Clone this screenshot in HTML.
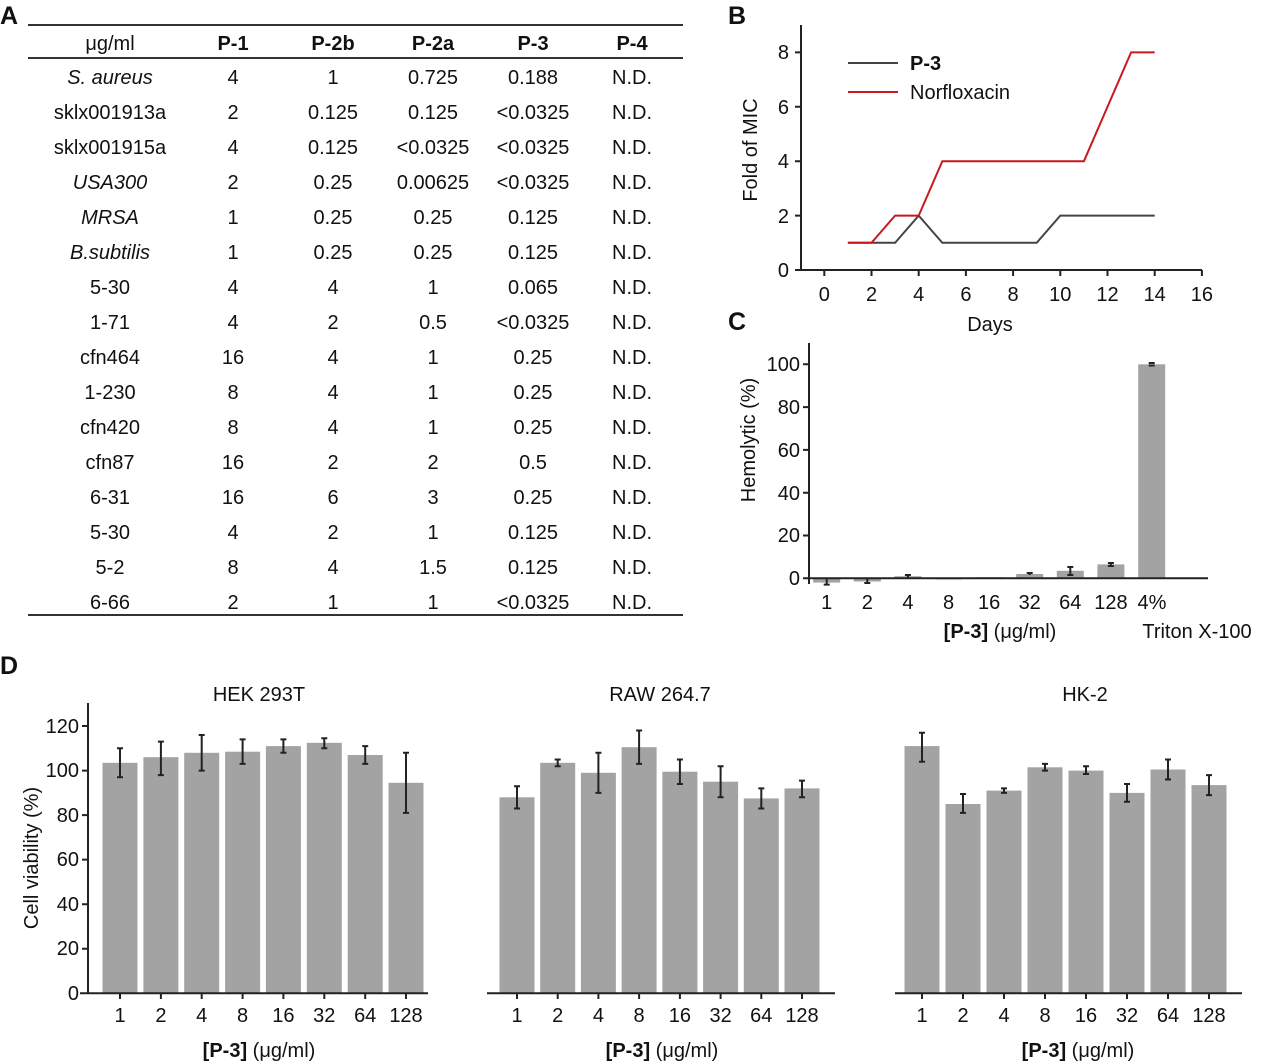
<!DOCTYPE html><html><head><style>body{margin:0;background:#fff}svg{display:block}text{font-family:"Liberation Sans",sans-serif;fill:#111}</style></head><body>
<svg width="1275" height="1063" viewBox="0 0 1275 1063">
<g font-weight="bold" font-size="25"><text x="0" y="24">A</text><text x="728" y="24">B</text><text x="728" y="330">C</text><text x="0" y="674">D</text></g>
<g stroke="#333" stroke-width="2"><line x1="28" y1="25" x2="683" y2="25"/><line x1="28" y1="58" x2="683" y2="58"/><line x1="28" y1="615" x2="683" y2="615"/></g>
<g font-size="20" text-anchor="middle">
<text x="110" y="50">μg/ml</text><g font-weight="bold"><text x="233" y="50">P-1</text><text x="333" y="50">P-2b</text><text x="433" y="50">P-2a</text><text x="533" y="50">P-3</text><text x="632" y="50">P-4</text></g>
<g transform="translate(0,84)">
<text x="110" y="0" font-style="italic">S. aureus</text><text x="233" y="0">4</text><text x="333" y="0">1</text><text x="433" y="0">0.725</text><text x="533" y="0">0.188</text><text x="632" y="0">N.D.</text>
<text x="110" y="35">sklx001913a</text><text x="233" y="35">2</text><text x="333" y="35">0.125</text><text x="433" y="35">0.125</text><text x="533" y="35">&lt;0.0325</text><text x="632" y="35">N.D.</text>
<text x="110" y="70">sklx001915a</text><text x="233" y="70">4</text><text x="333" y="70">0.125</text><text x="433" y="70">&lt;0.0325</text><text x="533" y="70">&lt;0.0325</text><text x="632" y="70">N.D.</text>
<text x="110" y="105" font-style="italic">USA300</text><text x="233" y="105">2</text><text x="333" y="105">0.25</text><text x="433" y="105">0.00625</text><text x="533" y="105">&lt;0.0325</text><text x="632" y="105">N.D.</text>
<text x="110" y="140" font-style="italic">MRSA</text><text x="233" y="140">1</text><text x="333" y="140">0.25</text><text x="433" y="140">0.25</text><text x="533" y="140">0.125</text><text x="632" y="140">N.D.</text>
<text x="110" y="175" font-style="italic">B.subtilis</text><text x="233" y="175">1</text><text x="333" y="175">0.25</text><text x="433" y="175">0.25</text><text x="533" y="175">0.125</text><text x="632" y="175">N.D.</text>
<text x="110" y="210">5-30</text><text x="233" y="210">4</text><text x="333" y="210">4</text><text x="433" y="210">1</text><text x="533" y="210">0.065</text><text x="632" y="210">N.D.</text>
<text x="110" y="245">1-71</text><text x="233" y="245">4</text><text x="333" y="245">2</text><text x="433" y="245">0.5</text><text x="533" y="245">&lt;0.0325</text><text x="632" y="245">N.D.</text>
<text x="110" y="280">cfn464</text><text x="233" y="280">16</text><text x="333" y="280">4</text><text x="433" y="280">1</text><text x="533" y="280">0.25</text><text x="632" y="280">N.D.</text>
<text x="110" y="315">1-230</text><text x="233" y="315">8</text><text x="333" y="315">4</text><text x="433" y="315">1</text><text x="533" y="315">0.25</text><text x="632" y="315">N.D.</text>
<text x="110" y="350">cfn420</text><text x="233" y="350">8</text><text x="333" y="350">4</text><text x="433" y="350">1</text><text x="533" y="350">0.25</text><text x="632" y="350">N.D.</text>
<text x="110" y="385">cfn87</text><text x="233" y="385">16</text><text x="333" y="385">2</text><text x="433" y="385">2</text><text x="533" y="385">0.5</text><text x="632" y="385">N.D.</text>
<text x="110" y="420">6-31</text><text x="233" y="420">16</text><text x="333" y="420">6</text><text x="433" y="420">3</text><text x="533" y="420">0.25</text><text x="632" y="420">N.D.</text>
<text x="110" y="455">5-30</text><text x="233" y="455">4</text><text x="333" y="455">2</text><text x="433" y="455">1</text><text x="533" y="455">0.125</text><text x="632" y="455">N.D.</text>
<text x="110" y="490">5-2</text><text x="233" y="490">8</text><text x="333" y="490">4</text><text x="433" y="490">1.5</text><text x="533" y="490">0.125</text><text x="632" y="490">N.D.</text>
<text x="110" y="525">6-66</text><text x="233" y="525">2</text><text x="333" y="525">1</text><text x="433" y="525">1</text><text x="533" y="525">&lt;0.0325</text><text x="632" y="525">N.D.</text>
</g></g>
<g stroke="#222" stroke-width="2" fill="none">
<path d="M801 25V270M795 270H1202"/>
<path d="M795 52.4H801M795 106.8H801M795 161.2H801M795 215.6H801"/>
<path d="M824.3 270v6M871.5 270v6M918.7 270v6M965.9 270v6M1013.1 270v6M1060.3 270v6M1107.5 270v6M1154.7 270v6M1201.9 270v6"/>
</g>
<polyline fill="none" stroke="#444" stroke-width="2" points="847.9,242.8 895.1,242.8 918.7,215.6 942.3,242.8 1036.7,242.8 1060.3,215.6 1154.7,215.6"/>
<polyline fill="none" stroke="#c8191e" stroke-width="2" points="847.9,242.8 871.5,242.8 895.1,215.6 918.7,215.6 942.3,161.2 1083.9,161.2 1131.1,52.4 1154.7,52.4"/>
<line x1="848" y1="63" x2="898" y2="63" stroke="#444" stroke-width="2"/><line x1="848" y1="92" x2="898" y2="92" stroke="#c8191e" stroke-width="2"/>
<g font-size="20"><text x="910" y="70" font-weight="bold">P-3</text><text x="910" y="99">Norfloxacin</text></g>
<g font-size="20" text-anchor="end"><text x="789" y="59">8</text><text x="789" y="114">6</text><text x="789" y="168">4</text><text x="789" y="223">2</text><text x="789" y="277">0</text></g>
<g font-size="20" text-anchor="middle"><text x="824.3" y="301">0</text><text x="871.5" y="301">2</text><text x="918.7" y="301">4</text><text x="965.9" y="301">6</text><text x="1013.1" y="301">8</text><text x="1060.3" y="301">10</text><text x="1107.5" y="301">12</text><text x="1154.7" y="301">14</text><text x="1201.9" y="301">16</text><text x="990" y="331">Days</text></g>
<text font-size="20" text-anchor="middle" transform="translate(757,150) rotate(-90)">Fold of MIC</text>
<g fill="#a3a3a3">
<rect x="813.2" y="578.3" width="27" height="4.3"/><rect x="853.8" y="578.3" width="27" height="3.2"/><rect x="894.4" y="576.2" width="27" height="2.1"/><rect x="935" y="578.3" width="27" height="1.1"/><rect x="975.6" y="577.2" width="27" height="1.1"/><rect x="1016.2" y="574" width="27" height="4.3"/><rect x="1056.8" y="570.8" width="27" height="7.5"/><rect x="1097.4" y="564.4" width="27" height="13.9"/><rect x="1138.2" y="364.3" width="27" height="214"/>
</g>
<g stroke="#222" stroke-width="2" fill="none">
<path d="M809 343V584M803 578.3H1208"/>
<path d="M803 364.3H809M803 407.1H809M803 449.9H809M803 492.7H809M803 535.5H809"/>
<path d="M826.7 584.6v-5.5M823.7 584.6h6M867.3 583v-4M864.3 583h6M907.9 575v3M904.9 575h6M1070.3 567v8M1067.3 567h6M1067.3 575h6M1110.9 563v3M1107.9 563h6M1107.9 566h6M1029.7 573v2M1026.7 573h6M1148.7 363h6M1148.7 365.5h6"/>
</g>
<g font-size="20" text-anchor="end"><text x="800" y="371">100</text><text x="800" y="414">80</text><text x="800" y="457">60</text><text x="800" y="500">40</text><text x="800" y="542">20</text><text x="800" y="585">0</text></g>
<g font-size="20" text-anchor="middle"><text x="826.7" y="609">1</text><text x="867.3" y="609">2</text><text x="907.9" y="609">4</text><text x="948.5" y="609">8</text><text x="989.1" y="609">16</text><text x="1029.7" y="609">32</text><text x="1070.3" y="609">64</text><text x="1110.9" y="609">128</text><text x="1152" y="609">4%</text><text x="1000" y="638"><tspan font-weight="bold">[P-3]</tspan> (μg/ml)</text><text x="1197" y="638">Triton X-100</text></g>
<text font-size="20" text-anchor="middle" transform="translate(755,440) rotate(-90)">Hemolytic (%)</text>
<g fill="#a3a3a3">
<rect x="102.5" y="762.8" width="35" height="230.5"/><rect x="143.4" y="757.2" width="35" height="236.1"/><rect x="184.2" y="752.8" width="35" height="240.5"/><rect x="225.1" y="751.7" width="35" height="241.6"/><rect x="265.9" y="746.1" width="35" height="247.2"/><rect x="306.8" y="742.8" width="35" height="250.5"/><rect x="347.7" y="755" width="35" height="238.3"/><rect x="388.5" y="782.8" width="35" height="210.5"/>
<rect x="499.5" y="797.3" width="35" height="196"/><rect x="540.2" y="762.8" width="35" height="230.5"/><rect x="580.9" y="772.8" width="35" height="220.5"/><rect x="621.6" y="747.2" width="35" height="246.1"/><rect x="662.4" y="771.7" width="35" height="221.6"/><rect x="703.1" y="781.7" width="35" height="211.6"/><rect x="743.8" y="798.4" width="35" height="194.9"/><rect x="784.5" y="788.4" width="35" height="204.9"/>
<rect x="904.5" y="746.1" width="35" height="247.2"/><rect x="945.5" y="804" width="35" height="189.3"/><rect x="986.5" y="790.6" width="35" height="202.7"/><rect x="1027.5" y="767.3" width="35" height="226"/><rect x="1068.5" y="770.6" width="35" height="222.7"/><rect x="1109.5" y="792.9" width="35" height="200.4"/><rect x="1150.5" y="769.5" width="35" height="223.8"/><rect x="1191.5" y="785.1" width="35" height="208.2"/>
</g>
<g stroke="#222" stroke-width="2" fill="none">
<path d="M88 703V993.3M80 993.3H428M82 726H88M82 770.6H88M82 815.1H88M82 859.6H88M82 904.2H88M82 948.8H88"/>
<path d="M487 993.3H835M895 993.3H1242"/>
<path d="M120 993v6M160.9 993v6M201.7 993v6M242.6 993v6M283.4 993v6M324.3 993v6M365.2 993v6M406 993v6M517 993v6M557.7 993v6M598.4 993v6M639.1 993v6M679.9 993v6M720.6 993v6M761.3 993v6M802 993v6M922 993v6M963 993v6M1004 993v6M1045 993v6M1086 993v6M1127 993v6M1168 993v6M1209 993v6"/>
<path d="M120 777.3V748.3M117 777.3h6M117 748.3h6M160.9 775.1V741.6M157.9 775.1h6M157.9 741.6h6M201.7 770.6V735M198.7 770.6h6M198.7 735h6M242.6 763.9V739.4M239.6 763.9h6M239.6 739.4h6M283.4 752.8V739.4M280.4 752.8h6M280.4 739.4h6M324.3 748.3V738.3M321.3 748.3h6M321.3 738.3h6M365.2 763.9V746.1M362.2 763.9h6M362.2 746.1h6M406 812.9V752.8M403 812.9h6M403 752.8h6"/>
<path d="M517 808.5V786.2M514 808.5h6M514 786.2h6M557.7 766.2V759.5M554.7 766.2h6M554.7 759.5h6M598.4 792.9V752.8M595.4 792.9h6M595.4 752.8h6M639.1 763.9V730.5M636.1 763.9h6M636.1 730.5h6M679.9 784V759.5M676.9 784h6M676.9 759.5h6M720.6 797.3V766.2M717.6 797.3h6M717.6 766.2h6M761.3 808.5V788.4M758.3 808.5h6M758.3 788.4h6M802 797.3V780.6M799 797.3h6M799 780.6h6"/>
<path d="M922 761.7V732.7M919 761.7h6M919 732.7h6M963 812.9V794M960 812.9h6M960 794h6M1004 792.9V788.4M1001 792.9h6M1001 788.4h6M1045 770.6V763.9M1042 770.6h6M1042 763.9h6M1086 774V766.2M1083 774h6M1083 766.2h6M1127 801.8V784M1124 801.8h6M1124 784h6M1168 779.5V759.5M1165 779.5h6M1165 759.5h6M1209 795.1V775.1M1206 795.1h6M1206 775.1h6"/>
</g>
<g font-size="20" text-anchor="end"><text x="79" y="733">120</text><text x="79" y="777">100</text><text x="79" y="822">80</text><text x="79" y="866">60</text><text x="79" y="911">40</text><text x="79" y="955">20</text><text x="79" y="1000">0</text></g>
<g font-size="20" text-anchor="middle">
<text x="259" y="701">HEK 293T</text><text x="660" y="701">RAW 264.7</text><text x="1085" y="701">HK-2</text>
<text x="120" y="1022">1</text><text x="160.9" y="1022">2</text><text x="201.7" y="1022">4</text><text x="242.6" y="1022">8</text><text x="283.4" y="1022">16</text><text x="324.3" y="1022">32</text><text x="365.2" y="1022">64</text><text x="406" y="1022">128</text>
<text x="517" y="1022">1</text><text x="557.7" y="1022">2</text><text x="598.4" y="1022">4</text><text x="639.1" y="1022">8</text><text x="679.9" y="1022">16</text><text x="720.6" y="1022">32</text><text x="761.3" y="1022">64</text><text x="802" y="1022">128</text>
<text x="922" y="1022">1</text><text x="963" y="1022">2</text><text x="1004" y="1022">4</text><text x="1045" y="1022">8</text><text x="1086" y="1022">16</text><text x="1127" y="1022">32</text><text x="1168" y="1022">64</text><text x="1209" y="1022">128</text>
<text x="259" y="1057"><tspan font-weight="bold">[P-3]</tspan> (μg/ml)</text><text x="662" y="1057"><tspan font-weight="bold">[P-3]</tspan> (μg/ml)</text><text x="1078" y="1057"><tspan font-weight="bold">[P-3]</tspan> (μg/ml)</text>
</g>
<text font-size="20" text-anchor="middle" transform="translate(38,858) rotate(-90)">Cell viability (%)</text>
</svg></body></html>
